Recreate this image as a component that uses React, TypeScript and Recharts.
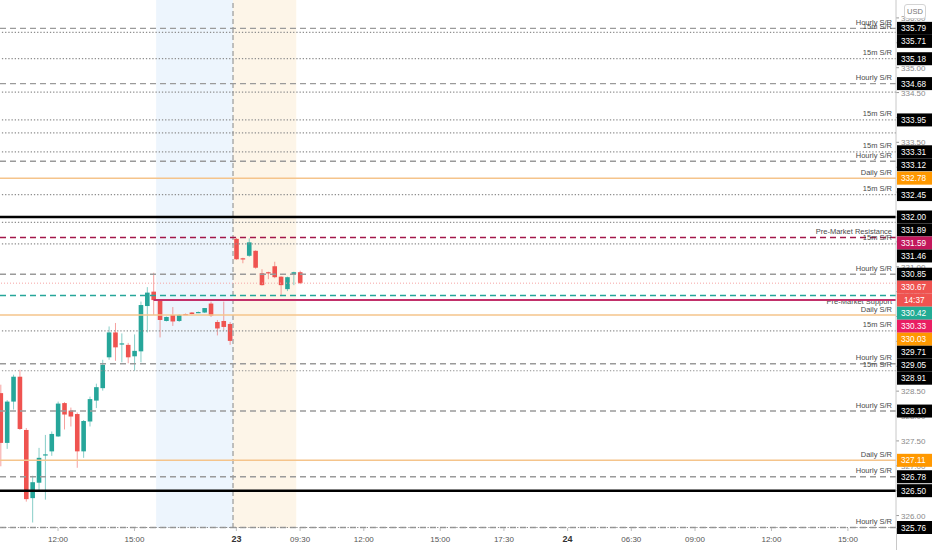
import React from 'react';
import {
  ComposedChart,
  Bar,
  XAxis,
  YAxis,
  ReferenceLine,
  ReferenceArea,
} from 'recharts';

// ---------- candle data (15-min bars, index based) ----------
const candleOpen = [
  328.46, 327.46, 328.29, 328.79, 327.72, 326.35, 326.66, 327.21, 327.29, 327.59,
  328.26, 328.11, 328.04, 327.29, 327.89, 328.31, 328.56, 329.18, 329.68, 329.44,
  329.43, 329.2, 329.3, 330.21, 330.5, 330.33, 329.91, 330.03, 329.91, 330.05,
  330.08, 330.08, 330.08, 330.26, 329.89, 329.91, 329.85, 331.56, 331.17, 331.22,
  331.32, 330.87, 330.89, 331.01, 330.8, 330.55, 330.85, 330.89,
];
const candleHigh = [
  328.63, 328.32, 328.83, 328.93, 327.76, 326.8, 327.36, 327.62, 327.69, 328.29,
  328.28, 328.17, 328.07, 327.92, 328.39, 328.65, 329.13, 329.8, 329.87, 329.66,
  329.47, 329.64, 330.3, 330.59, 330.88, 330.35, 330.0, 330.19, 330.05, 330.06,
  330.09, 330.1, 330.17, 330.3, 329.93, 330.3, 329.89, 331.58, 331.18, 331.57,
  331.33, 330.95, 330.9, 331.1, 330.81, 330.8, 330.9, 330.92,
];
const candleLow = [
  326.99, 327.34, 328.13, 327.72, 326.28, 325.86, 326.5, 326.32, 327.2, 327.58,
  327.73, 327.79, 326.96, 327.16, 327.79, 328.16, 328.51, 329.13, 329.11, 329.08,
  329.06, 328.91, 329.08, 329.68, 330.03, 329.58, 329.9, 329.81, 329.89, 330.03,
  330.04, 330.07, 330.07, 329.99, 329.62, 329.72, 329.43, 331.14, 331.07, 331.2,
  330.96, 330.62, 330.75, 330.77, 330.41, 330.51, 330.63, 330.65,
];
const candleClose = [
  327.46, 328.29, 328.79, 327.74, 326.33, 326.67, 327.16, 327.23, 327.64, 328.25,
  328.03, 327.99, 327.29, 327.9, 328.34, 328.58, 329.03, 329.68, 329.38, 329.46,
  329.18, 329.31, 330.23, 330.48, 330.33, 329.93, 329.99, 329.9, 330.03, 330.04,
  330.05, 330.09, 330.17, 330.02, 329.76, 329.79, 329.51, 331.15, 331.15, 331.49,
  330.98, 330.63, 330.87, 330.79, 330.63, 330.79, 330.89, 330.67,
];

// ---------- time axis ----------
const timeTickIndex = [9, 21, 37, 47, 57, 69, 79, 89, 99, 109, 121, 133];
const timeTickLabels = ['12:00', '15:00', '23', '09:30', '12:00', '15:00', '17:30', '24', '06:30', '09:00', '12:00', '15:00'];
const dayLabels = ['23', '24'];

// ---------- price axis ----------
const priceTicks = [326, 326.5, 327, 327.5, 328, 328.5, 329, 329.5, 330, 330.5, 331, 331.5, 332, 332.5, 333, 333.5, 334, 334.5, 335, 335.5, 336];

// ---------- sessions ----------
const postMarketRange = [24.4, 36.47];
const preMarketRange = [36.47, 46.4];
const sessionBreak = 36.47;

// ---------- support / resistance levels ----------
const levelPrices = [
  335.79, 335.71, 335.18, 334.68, 334.51, 333.95, 333.69, 333.31, 333.12, 332.78,
  332.45, 332.0, 331.89, 331.59, 331.46, 330.85, 330.67, 330.42, 330.33, 330.03,
  329.71, 329.05, 328.91, 328.1, 327.11, 326.78, 326.5, 325.76, 325.76,
];
const levelKinds = [
  'hourly', 'm15', 'm15', 'hourly', 'dot', 'm15', 'dot', 'm15', 'hourly', 'daily',
  'm15', 'major', 'dot', 'pmr', 'm15', 'hourly', 'last', 'pms', 'ray', 'daily',
  'm15', 'hourly', 'm15', 'hourly', 'daily', 'hourly', 'major', 'hourly', 'dot',
];
const levelLabels = [
  'Hourly S/R', '15m S/R', '15m S/R', 'Hourly S/R', '', '15m S/R', '', '15m S/R', 'Hourly S/R', 'Daily S/R',
  '15m S/R', '', '', 'Pre-Market Resistance', '15m S/R', 'Hourly S/R', '', 'Pre-Market Support', '', 'Daily S/R',
  '15m S/R', 'Hourly S/R', '15m S/R', 'Hourly S/R', 'Daily S/R', 'Hourly S/R', '', 'Hourly S/R', '',
];
const levelBoxed = [
  true, true, true, true, false, true, false, true, true, true,
  true, true, true, true, true, true, true, true, true, true,
  true, true, true, true, true, true, true, true, false,
];
const rayStartIndex = 24;
const countdownText = '14:37';

// ---------- styles ----------
const W = 932;
const H = 550;
const AXIS_W = 36;
const XAXIS_H = 22;
const PLOT_H = H - XAXIS_H;
const DOMAIN_MIN = 325.75;
const DOMAIN_MAX = 336.36;
const X_MIN = -0.11;
const X_MAX = 140.55;
const BOX_H = 13;
const FONT = '"Liberation Sans", Arial, sans-serif';

const UP = '#26a69a';
const DOWN = '#ef5350';

type Style = { stroke: string; width: number; dash?: string; box: string };
const kindStyle: Record<string, Style> = {
  hourly: { stroke: '#9a9a9a', width: 1.4, dash: '6 4', box: '#000000' },
  m15: { stroke: '#8e8e8e', width: 1.2, dash: '1.3 1.9', box: '#000000' },
  dot: { stroke: '#8e8e8e', width: 1.2, dash: '1.3 1.9', box: '#000000' },
  daily: { stroke: '#f5c48b', width: 1.5, box: '#ff9800' },
  major: { stroke: '#000000', width: 2.5, box: '#000000' },
  pmr: { stroke: '#a3174a', width: 1.5, dash: '6 4', box: '#c2185b' },
  last: { stroke: '#f6a3a3', width: 1, dash: '1 2', box: '#ef5350' },
  pms: { stroke: '#26a69a', width: 1.5, dash: '6 4', box: '#22ab94' },
  ray: { stroke: '#c2306a', width: 2, box: '#e91e63' },
};

const candles = candleOpen.map((o, i) => ({
  i,
  open: o,
  high: candleHigh[i],
  low: candleLow[i],
  close: candleClose[i],
  range: [candleLow[i], candleHigh[i]],
}));

// label layout: push boxes down to avoid overlap (TradingView-like)
const PX_PER_UNIT = PLOT_H / (DOMAIN_MAX - DOMAIN_MIN);
const boxShift: number[] = levelPrices.map(() => 0);
const boxCenters: number[] = [];
(() => {
  const items = levelPrices
    .map((p, idx) => ({ idx, natural: (DOMAIN_MAX - p) * PX_PER_UNIT }))
    .filter((it) => levelBoxed[it.idx])
    .sort((a, b) => a.natural - b.natural);
  let prevCenter = -Infinity;
  let prevExtra = 0;
  items.forEach((it) => {
    const pos = Math.max(it.natural, prevCenter + BOX_H + prevExtra);
    boxShift[it.idx] = pos - it.natural;
    boxCenters.push(pos);
    if (levelKinds[it.idx] === 'last') boxCenters.push(pos + BOX_H);
    prevCenter = pos;
    prevExtra = levelKinds[it.idx] === 'last' ? BOX_H : 0;
  });
})();
// an axis tick label that sits fully behind a price box is not visible
const tickHidden = (t: number) => {
  const ty = (DOMAIN_MAX - t) * PX_PER_UNIT;
  return boxCenters.some((c) => Math.abs(c - ty) < 3.6);
};

const Candle = (props: any) => {
  const { x, y, width, height, payload } = props;
  if (x == null || y == null || !payload) return null;
  const { open, close, high, low } = payload;
  const ratio = height / (high - low);
  const yOpen = y + (high - open) * ratio;
  const yClose = y + (high - close) * ratio;
  const up = close >= open;
  const color = up ? UP : DOWN;
  const top = Math.min(yOpen, yClose);
  const bh = Math.max(1.2, Math.abs(yOpen - yClose));
  const cx = x + width / 2;
  return (
    <g>
      <line x1={cx} x2={cx} y1={y} y2={y + height} stroke={color} strokeOpacity={0.55} strokeWidth={1} />
      <rect x={x} y={top} width={width} height={bh} fill={color} />
    </g>
  );
};

const LevelLabel = (props: any) => {
  const { viewBox, idx } = props;
  if (!viewBox) return null;
  const { x, y, width } = viewBox;
  const right = x + width;
  const kind = levelKinds[idx];
  const st = kindStyle[kind];
  const text = levelLabels[idx];
  const below = kind === 'pms';
  const boxed = levelBoxed[idx];
  const by = y + boxShift[idx];
  return (
    <g>
      {text ? (
        <text
          x={right - 4}
          y={below ? y + 8.5 : y - 3.5}
          textAnchor="end"
          fontSize={7.5}
          fontFamily={FONT}
          fill="#4a4a4a"
        >
          {text}
        </text>
      ) : null}
      {boxed ? (
        <g>
          <rect x={right + 1} y={by - BOX_H / 2} width={AXIS_W - 1} height={BOX_H} fill={st.box} />
          <text x={right + 5} y={by + 3} fontSize={8.2} fontFamily={FONT} fill="#ffffff">
            {levelPrices[idx].toFixed(2)}
          </text>
          {kind === 'last' ? (
            <g>
              <rect x={right + 1} y={by + BOX_H / 2} width={AXIS_W - 1} height={BOX_H} fill={st.box} />
              <text x={right + 8} y={by + BOX_H + 3} fontSize={8.2} fontFamily={FONT} fill="#ffffff">
                {countdownText}
              </text>
            </g>
          ) : null}
        </g>
      ) : null}
    </g>
  );
};

// price-axis tick mark + label, positioned by the y scale (via a ReferenceLine)
const PriceTickLabel = (props: any) => {
  const { viewBox, value } = props;
  if (!viewBox) return null;
  const right = viewBox.x + viewBox.width;
  const y = viewBox.y;
  return (
    <g>
      <line x1={right} x2={right + 3} y1={y} y2={y} stroke="#9a9a9a" strokeWidth={1} />
      {tickHidden(value) ? null : (
        <text x={right + 5} y={y + 3} fontSize={8} fontFamily={FONT} fill="#8a8a8a">
          {Number(value).toFixed(2)}
        </text>
      )}
    </g>
  );
};

const TimeTick = (props: any) => {
  const { x, y, payload } = props;
  const k = timeTickIndex.indexOf(payload.value);
  const label = k >= 0 ? timeTickLabels[k] : '';
  const isDay = dayLabels.includes(label);
  return (
    <text
      x={x}
      y={y + 9}
      textAnchor="middle"
      fontSize={isDay ? 9 : 8}
      fontWeight={isDay ? 'bold' : 'normal'}
      fontFamily={FONT}
      fill={isDay ? '#333333' : '#555555'}
    >
      {label}
    </text>
  );
};

export default function App() {
  return (
    <div style={{ position: 'absolute', left: 0, top: 0, width: W, height: H, background: '#ffffff', fontFamily: FONT }}>
      <ComposedChart width={W} height={H} data={candles} margin={{ top: 0, right: 0, bottom: 0, left: 0 }}>
        <XAxis
          type="number"
          dataKey="i"
          domain={[X_MIN, X_MAX]}
          allowDataOverflow
          ticks={timeTickIndex}
          interval={0}
          height={XAXIS_H}
          axisLine={false}
          tickLine={{ stroke: '#bdbdbd' }}
          tickSize={3}
          tick={<TimeTick />}
        />
        <YAxis
          orientation="right"
          type="number"
          domain={[DOMAIN_MIN, DOMAIN_MAX]}
          allowDataOverflow
          ticks={priceTicks}
          interval={0}
          width={AXIS_W}
          axisLine={{ stroke: '#c8c8c8' }}
          tickLine={false}
          tick={false}
        />
        <ReferenceArea x1={postMarketRange[0]} x2={postMarketRange[1]} fill="#edf5fd" fillOpacity={1} stroke="none" />
        <ReferenceArea x1={preMarketRange[0]} x2={preMarketRange[1]} fill="#fdf5e8" fillOpacity={1} stroke="none" />
        <ReferenceLine x={sessionBreak} stroke="#a0a0a0" strokeWidth={1.3} strokeDasharray="5 3" />
        <Bar dataKey="range" barSize={4.6} shape={<Candle />} isAnimationActive={false} />
        {priceTicks.map((t) => (
          <ReferenceLine
            key={'t' + t}
            y={t}
            stroke="none"
            label={(lp: any) => <PriceTickLabel {...lp} value={t} />}
          />
        ))}
        {levelPrices.map((p, idx) => {
          const st = kindStyle[levelKinds[idx]];
          const common = {
            stroke: st.stroke,
            strokeWidth: st.width,
            strokeDasharray: st.dash,
            label: (lp: any) => <LevelLabel {...lp} idx={idx} />,
          };
          if (levelKinds[idx] === 'ray') {
            return (
              <ReferenceLine
                key={idx}
                segment={[{ x: rayStartIndex, y: p }, { x: X_MAX, y: p }]}
                {...common}
              />
            );
          }
          return <ReferenceLine key={idx} y={p} {...common} />;
        })}
      </ComposedChart>
      <div style={{ position: 'absolute', left: 896, top: PLOT_H, width: 1, height: XAXIS_H, background: '#c8c8c8' }} />
      <div
        style={{
          position: 'absolute',
          left: 904,
          top: 4,
          width: 20,
          height: 13,
          border: '1px solid #d4d4d4',
          borderRadius: 3,
          background: '#ffffff',
          color: '#777777',
          fontSize: 7.5,
          lineHeight: '13px',
          textAlign: 'center',
          fontFamily: FONT,
        }}
      >
        USD
      </div>
    </div>
  );
}
